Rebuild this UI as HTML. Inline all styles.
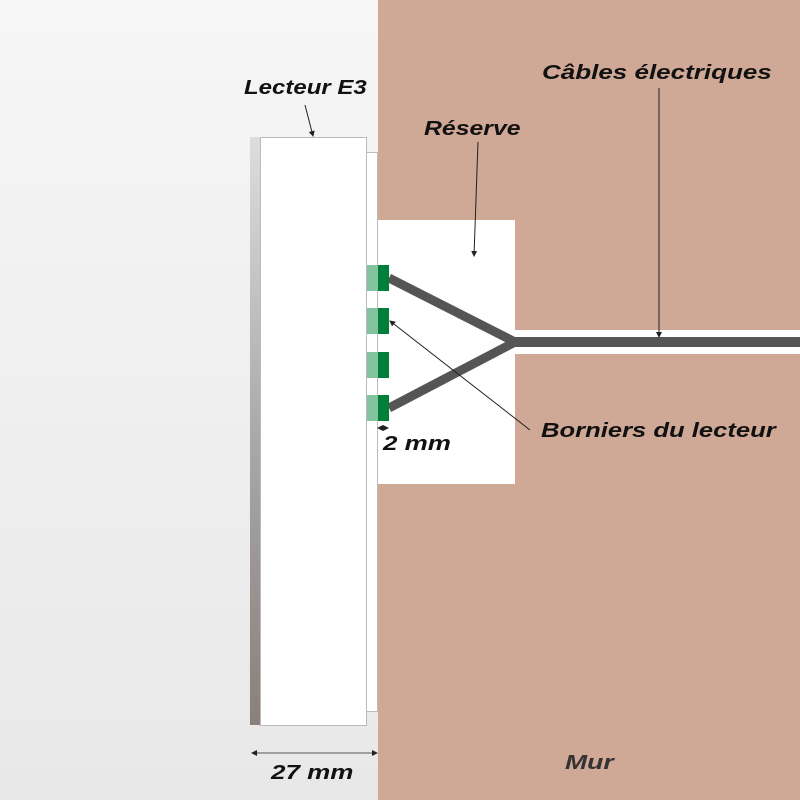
<!DOCTYPE html>
<html><head><meta charset="utf-8"><style>
body{margin:0}
#c{position:relative;width:800px;height:800px;overflow:hidden;background:linear-gradient(#f6f6f6,#e8e8e8)}
.a{position:absolute}
.t{position:absolute;font-family:"Liberation Sans",sans-serif;font-weight:bold;font-style:italic;font-size:20px;color:#111;white-space:nowrap;transform:scaleX(1.28);transform-origin:0 50%}
</style></head><body><div id="c">
<div class="a" style="left:378px;top:0;width:422px;height:800px;background:#cfa896"></div>
<div class="a" style="left:378px;top:220px;width:137px;height:264px;background:#fff"></div>
<div class="a" style="left:515px;top:330px;width:285px;height:24px;background:#fff"></div>
<div class="a" style="left:366px;top:152px;width:11px;height:558px;background:#fff;border:1px solid #bbb;border-left:none"></div>
<div class="a" style="left:250px;top:137px;width:10px;height:588px;background:linear-gradient(#ddd,#aaa 50%,#8a7f7b)"></div>
<div class="a" style="left:260px;top:137px;width:105px;height:587px;background:#fff;border:1px solid #bbb"></div>
<svg class="a" style="left:0;top:0" width="800" height="800">
<defs><marker id="m" markerWidth="6" markerHeight="6" refX="5" refY="3" orient="auto-start-reverse" markerUnits="userSpaceOnUse"><path d="M0,0L6,3L0,6z" fill="#222"/></marker></defs>
<polyline points="389,278 515,342 389,408" fill="none" stroke="#555" stroke-width="9"/>
<rect x="515" y="337" width="285" height="10" fill="#555"/>
<g fill="#82c29e"><rect x="367" y="265" width="11" height="26"/><rect x="367" y="308" width="11" height="26"/><rect x="367" y="352" width="11" height="26"/><rect x="367" y="395" width="11" height="26"/></g>
<g fill="#007f3a"><rect x="378" y="265" width="11" height="26"/><rect x="378" y="308" width="11" height="26"/><rect x="378" y="352" width="11" height="26"/><rect x="378" y="395" width="11" height="26"/></g>
<g stroke="#222" stroke-width="1" fill="none">
<line x1="305" y1="105" x2="313" y2="136" marker-end="url(#m)"/>
<line x1="478" y1="142" x2="474" y2="256" marker-end="url(#m)"/>
<line x1="659" y1="88" x2="659" y2="337" marker-end="url(#m)"/>
<line x1="530" y1="430" x2="390" y2="321" marker-end="url(#m)"/>
<line x1="252" y1="753" x2="377" y2="753" stroke="#555" marker-start="url(#m)" marker-end="url(#m)"/>
<line x1="378" y1="428" x2="388" y2="428" marker-start="url(#m)" marker-end="url(#m)"/>
</g>
</svg>
<div class="t" style="left:244px;top:77px;transform:scaleX(1.2)">Lecteur E3</div>
<div class="t" style="left:424px;top:118px;transform:scaleX(1.24)">Réserve</div>
<div class="t" style="left:542px;top:62px;transform:scaleX(1.3)">Câbles électriques</div>
<div class="t" style="left:541px;top:420px">Borniers du lecteur</div>
<div class="t" style="left:383px;top:433px;transform:scaleX(1.3)">2 mm</div>
<div class="t" style="left:271px;top:762px;transform:scaleX(1.3)">27 mm</div>
<div class="t" style="left:565px;top:752px;color:#333;transform:scaleX(1.33)">Mur</div>
</div></body></html>
